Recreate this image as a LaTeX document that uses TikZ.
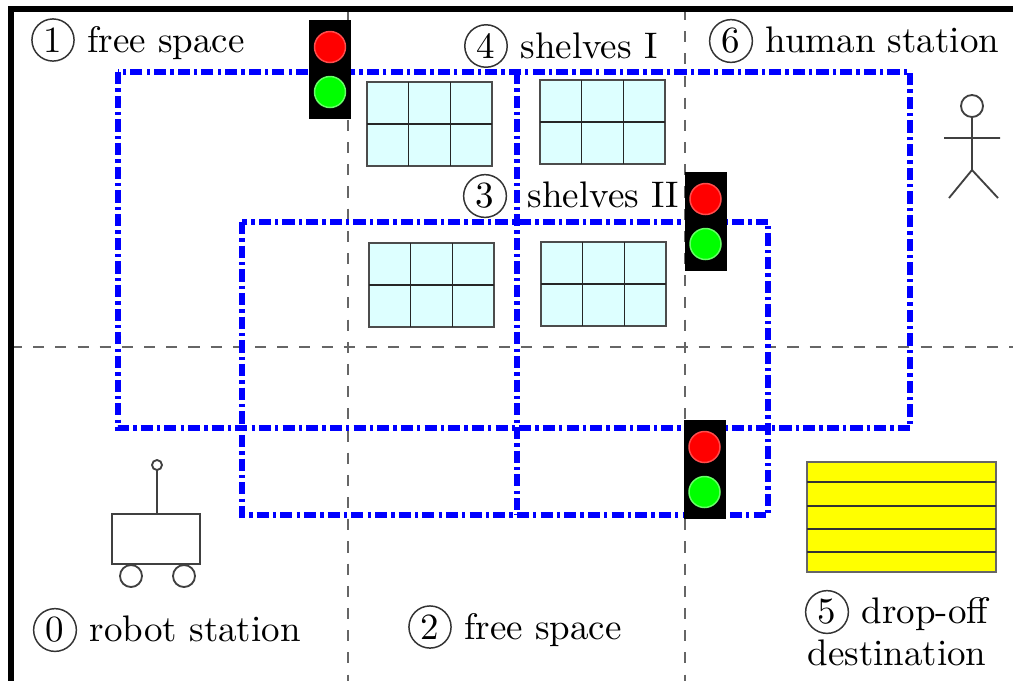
\documentclass[tikz,border=0pt]{standalone}
\usepackage{tikz}
\usetikzlibrary{positioning}

\definecolor{shelfcyan}{RGB}{221,255,255}
\definecolor{dropyellow}{RGB}{255,255,0}
\definecolor{lampred}{RGB}{255,0,0}
\definecolor{lampgreen}{RGB}{0,255,0}
\definecolor{zoneblue}{RGB}{0,0,255}

\tikzset{
  zone/.style={draw=zoneblue, line width=1.6pt, dash pattern=on 3.3pt off 1.1pt on 0.9pt off 1.1pt},
  gridline/.style={draw=black!60, dashed, line width=0.4pt},
  num/.style={circle, draw=black!80, line width=0.4pt, inner sep=1.1pt},
  lbl/.style={inner sep=0pt},
  figure/.style={draw=black!75, line width=0.5pt},
  shelf/.pic={
    \draw[fill=shelfcyan, draw=black!70] (0,0) rectangle (125,84);
    \draw[black!85] (41.7,0) -- (41.7,84) (83.3,0) -- (83.3,84) (0,42) -- (125,42);
  },
  trafficlight/.pic={
    \fill[black] (-21,0) rectangle (21,99);
    \draw[fill=lampred, draw=lampred!70!white] (0,27) circle[radius=15.5];
    \draw[fill=lampgreen, draw=lampgreen!60!white] (0,72) circle[radius=15.5];
  }
}

\begin{document}
\begin{tikzpicture}[x=0.0095cm, y=-0.0095cm]
\useasboundingbox (0,0) rectangle (1013,680);
\clip (0,0) rectangle (1013,680);

% grid of the map
\draw[gridline] (348,9) -- (348,690);
\draw[gridline] (685,9) -- (685,690);
\draw[gridline] (11,347) -- (1020,347);

% shelves
\pic at (367,82) {shelf};
\pic at (540,80) {shelf};
\pic at (369,243) {shelf};
\pic at (541,242) {shelf};

% shelf zones
\draw[zone] (118,72) rectangle (910,428);
\draw[zone] (242,222) rectangle (768,515);
\draw[zone] (517,72) -- (517,515);

% traffic lights
\pic at (330,20) {trafficlight};
\pic at (705.5,172) {trafficlight};
\pic at (704.5,420) {trafficlight};

% drop-off
\draw[draw=black!60, fill=dropyellow] (807,462) rectangle (996,572);
\foreach \y in {482,506,529,552}
  \draw[black!80] (807,\y) -- (996,\y);

% robot
\draw[figure] (112,514) rectangle (200,564);
\draw[figure] (157,514) -- (157,470);
\draw[figure] (157,465) circle[radius=5];
\draw[figure] (131,576) circle[radius=11] (184,576) circle[radius=11];

% human
\draw[figure] (972,106) circle[radius=11];
\draw[figure] (972,117) -- (972,170) -- (949,198) (972,170) -- (998,198)
  (944,138) -- (1000,138);

% labels
\node[num] (n0) at (55,630) {0};
\node[lbl, base right=3.2pt of n0] (t0) {robot station};
\node[num] (n1) at (53,40) {1};
\node[lbl, base right=3.2pt of n1] (t1) {free space};
\node[num] (n2) at (430,627) {2};
\node[lbl, base right=3.2pt of n2] (t2) {free space};
\node[num] (n3) at (485,196) {3};
\node[lbl, base right=5.4pt of n3] (t3) {shelves II};
\node[num] (n4) at (486,46) {4};
\node[lbl, base right=3.2pt of n4] (t4) {shelves I};
\node[num] (n5) at (827,612) {5};
\node[lbl, base right=3.2pt of n5] (t5) {drop-off};
\node[lbl, anchor=base] (t5b) at (897,665) {destination};
\node[num] (n6) at (731,41) {6};
\node[lbl, base right=3.2pt of n6] (t6) {human station};

% frame
\draw[line width=1.5pt] (1030,9) -| (11,700);
\end{tikzpicture}
\end{document}
